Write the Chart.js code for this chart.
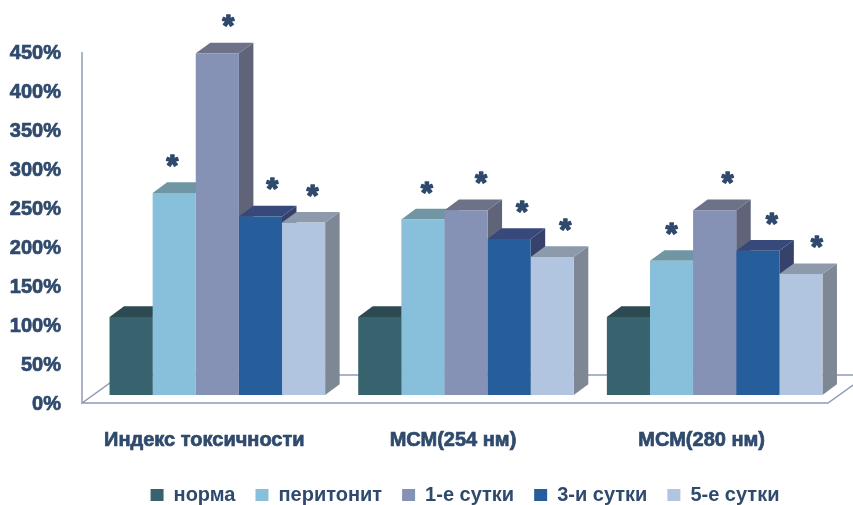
<!DOCTYPE html>
<html>
<head>
<meta charset="utf-8">
<title>Показатели токсичности</title>
<script src="https://cdn.jsdelivr.net/npm/chart.js@4"></script>
<style>
    html, body { margin: 0; padding: 0; background: #fff; }
    #wrap { width: 853px; height: 505px; }
</style>
</head>
<body>
<div id="wrap"><canvas id="chart"></canvas></div>
<script>
const categories = ['Индекс токсичности', 'МСМ(254 нм)', 'МСМ(280 нм)'];
const seriesNames = ['норма', 'перитонит', '1-е сутки', '3-и сутки', '5-е сутки'];
const norma = [100, 100, 100];
const peritonit = [259, 225, 172];
const day1 = [438, 237, 237];
const day3 = [229, 200, 185];
const day5 = [221, 177, 155];

const frontColors = ['#37636f', '#88c0dc', '#8591b5', '#265d9b', '#b2c5e0'];
const topColors = ['#2d4a52', '#7096a4', '#6d7288', '#37497b', '#8d9aab'];
const sideColors = ['#2d4a52', '#6d8a96', '#5f6478', '#36426b', '#7d8894'];

const textColor = '#2f4a6d';
const lineColor = '#8f9bb8';
const depthX = 14.5;
const depthY = 10.7;

// sideways nudge of each asterisk from its bar centre (one row per group)
const starShift = [[-2, 11, 12, 9], [4, 15, 13, 13], [0, 13, 14, 16]];

// floor and wall lines, then the top and right faces of every bar.
// the library paints the front faces afterwards, so they cover what is behind
const boxPlugin = {
    id: 'boxes',
    // the legend sits under the plot, not under the whole canvas
    afterLayout(chart) {
        chart.legend.left += 42;
        chart.legend.right += 42;
        chart.legend.top += 10;
        chart.legend.bottom += 10;
    },
    beforeDatasetsDraw(chart) {
        const ctx = chart.ctx;
        const base = chart.scales.y.getPixelForValue(0);
        const area = chart.chartArea;
        const wallX = area.left - 11;
        const floorY = base + 8;
        const backY = base - 20;

        ctx.save();
        ctx.strokeStyle = lineColor;
        ctx.lineWidth = 1.5;
        ctx.beginPath();
        ctx.moveTo(wallX, area.top + 8);
        ctx.lineTo(wallX, floorY);
        ctx.lineTo(wallX + 39, backY);
        ctx.lineTo(chart.width, backY);
        ctx.moveTo(wallX, floorY);
        ctx.lineTo(area.right - 11, floorY);
        ctx.lineTo(area.right + 28, backY);
        ctx.stroke();

        chart.data.datasets.forEach((ds, i) => {
            chart.getDatasetMeta(i).data.forEach(bar => {
                const l = bar.x - bar.width / 2;
                const r = bar.x + bar.width / 2;
                ctx.fillStyle = sideColors[i];
                ctx.beginPath();
                ctx.moveTo(r, bar.y);
                ctx.lineTo(r + depthX, bar.y - depthY);
                ctx.lineTo(r + depthX, bar.base - depthY);
                ctx.lineTo(r, bar.base);
                ctx.closePath();
                ctx.fill();
                ctx.fillStyle = topColors[i];
                ctx.beginPath();
                ctx.moveTo(l, bar.y);
                ctx.lineTo(l + depthX, bar.y - depthY);
                ctx.lineTo(r + depthX, bar.y - depthY);
                ctx.lineTo(r, bar.y);
                ctx.closePath();
                ctx.fill();
            });
        });
        ctx.restore();
    },
    // significance marks above every series except the norm
    afterDatasetsDraw(chart) {
        const ctx = chart.ctx;
        ctx.save();
        ctx.fillStyle = textColor;
        ctx.strokeStyle = textColor;
        ctx.lineWidth = 1.6;
        ctx.lineJoin = 'round';
        ctx.font = 'bold 30px "Liberation Sans"';
        ctx.textAlign = 'center';
        ctx.textBaseline = 'alphabetic';
        for (let i = 1; i < chart.data.datasets.length; i++) {
            chart.getDatasetMeta(i).data.forEach((bar, g) => {
                const x = bar.x + starShift[g][i - 1];
                const y = bar.y - 32.5 + 14.5;
                ctx.strokeText('*', x, y);
                ctx.fillText('*', x, y);
            });
        }
        ctx.restore();
    }
};

const seriesValues = [norma, peritonit, day1, day3, day5];
const labelFont = { family: '"Liberation Sans"', size: 20, weight: 'bold' };

new Chart(document.getElementById('chart'), {
    type: 'bar',
    data: {
        labels: categories,
        datasets: seriesNames.map((name, i) => ({
            label: name,
            data: seriesValues[i],
            backgroundColor: frontColors[i],
            borderWidth: 0,
            barPercentage: 1,
            categoryPercentage: 0.867
        }))
    },
    options: {
        responsive: true,
        maintainAspectRatio: false,
        animation: false,
        layout: { padding: { left: 7, right: 14, top: 44, bottom: 0 } },
        plugins: {
            tooltip: { enabled: false },
            legend: {
                position: 'bottom',
                labels: {
                    boxWidth: 13,
                    boxHeight: 12,
                    padding: 20,
                    color: textColor,
                    font: labelFont
                }
            }
        },
        scales: {
            x: {
                grid: { display: false, drawTicks: false },
                border: { display: false },
                afterFit(scale) { scale.height = 60; },
                ticks: {
                    autoSkip: false,
                    maxRotation: 0,
                    padding: 33,
                    labelOffset: -13,
                    color: textColor,
                    textStrokeColor: textColor,
                    textStrokeWidth: 0.7,
                    font: labelFont
                }
            },
            y: {
                min: 0,
                max: 450,
                grid: { display: false, drawTicks: false },
                border: { display: false },
                afterFit(scale) { scale.width = 86; },
                ticks: {
                    stepSize: 50,
                    padding: 32,
                    labelOffset: 9,
                    color: textColor,
                    textStrokeColor: textColor,
                    textStrokeWidth: 0.7,
                    font: labelFont,
                    callback: value => value + '%'
                }
            }
        }
    },
    plugins: [boxPlugin]
});
</script>
</body>
</html>
